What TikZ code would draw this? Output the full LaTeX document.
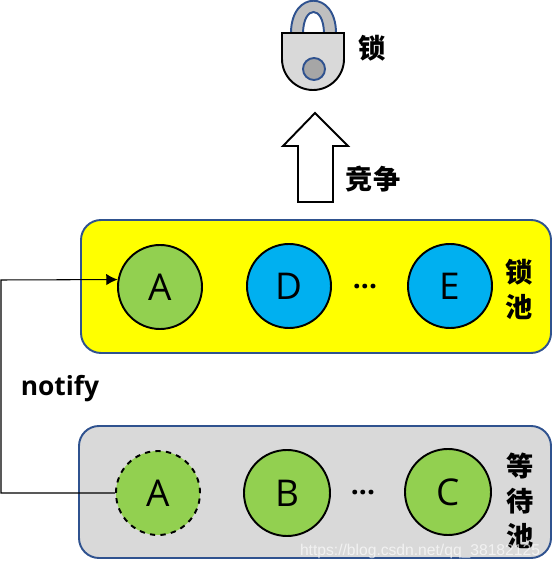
\documentclass[tikz,border=0pt]{standalone}
\usepackage{fontspec}
\setmainfont{Open Sans}
\newfontfamily\cjkfont{Noto Sans CJK SC}
\newfontfamily\wmfont{Liberation Sans}
\usepackage{tikz}
\usetikzlibrary{arrows.meta,positioning}
\definecolor{edgeblue}{HTML}{2F528F}
\definecolor{poolgray}{HTML}{D9D9D9}
\definecolor{poolyellow}{HTML}{FFFF00}
\definecolor{threadgreen}{HTML}{92D050}
\definecolor{threadblue}{HTML}{00B0F0}
\tikzset{
  poolbox/.style={draw=edgeblue, line width=1.1pt, rounded corners=0.4cm, minimum width=9.4cm, minimum height=2.66cm},
  thread/.style={circle, draw=black, line width=1.1pt, minimum size=1.68cm, inner sep=0pt, font=\fontsize{21}{21}\selectfont},
  cnlabel/.style={font=\cjkfont\bfseries\fontsize{15.5}{19.9}\selectfont, align=center, inner sep=0pt},
  dots/.style={font=\bfseries\fontsize{16}{16}\selectfont, inner sep=0pt}
}

\begin{document}
\begin{tikzpicture}[>=Latex, x=1cm, y=1cm]
  \useasboundingbox (0,0) rectangle (11.04,11.4);

  % Lock
  \draw[draw=edgeblue, line width=1.1pt, fill=black!25] (5.82,10.74) .. controls (5.82,11.6) and (6.72,11.6) .. (6.72,10.74)
    -- (6.48,10.74) .. controls (6.47,11.3) and (6.07,11.3) .. (6.06,10.74) -- cycle;
  \draw[line width=1.1pt, fill=poolgray] (5.64,10.74) -- (6.88,10.74) -- (6.88,10.22) arc[start angle=0, end angle=-180, radius=0.62] -- cycle;
  \draw[draw=edgeblue, line width=1.1pt, fill=black!35] (6.28,10.02) circle (0.22);
  \node[cnlabel] (locklabel) at (7.44,10.44) {锁};

  % Block arrow
  \draw[line width=1.1pt, fill=white] (6.3,9.14) -- (6.96,8.48) -- (6.66,8.48) -- (6.66,7.36) -- (5.96,7.36) -- (5.96,8.48) -- (5.66,8.48) -- cycle;
  \node[cnlabel] (compete) at (7.46,7.82) {竞争};

  % Lock pool
  \node[poolbox, fill=poolyellow] (lockpool) at (6.32,5.67) {};
  \node[thread, fill=threadgreen] (lockA) at (3.2,5.66) {A};
  \node[thread, fill=threadblue] (threadD) at (5.78,5.68) {D};
  \node[thread, fill=threadblue] (threadE) at (9.0,5.68) {E};
  \node[dots] (lockdots) at (7.3,5.66) {...};
  \node[cnlabel] (lockpoollabel) at (10.38,5.62) {锁\\池};

  % Wait pool
  \node[poolbox, fill=poolgray, minimum width=9.44cm, minimum height=2.64cm] (waitpool) at (6.3,1.56) {};
  \node[thread, fill=threadgreen, dashed] (waitA) at (3.16,1.54) {A};
  \node[thread, fill=threadgreen, minimum size=1.72cm] (threadB) at (5.74,1.54) {B};
  \node[thread, fill=threadgreen, minimum size=1.72cm] (threadC) at (8.96,1.56) {C};
  \node[dots] (waitdots) at (7.26,1.54) {...};
  \node[cnlabel] (waitpoollabel) at (10.4,1.38) {等\\待\\池};

  % Notify
  \coordinate (railtop) at (0.02,5.8);
  \draw[-{Latex[length=6.5pt,width=6.5pt]}, line width=0.6pt] (waitA.west) -| (railtop) -- (lockA.170);
  \node[font=\bfseries\fontsize{15}{15}\selectfont, inner sep=0pt] (notify) at (1.2,3.62) {notify};

  \node[font=\wmfont\fontsize{8.9}{8.9}\selectfont, text=white, text opacity=0.65, inner sep=0pt] (watermark) at (8.4,0.38) {https://blog.csdn.net/qq\_38182125};
\end{tikzpicture}
\end{document}
